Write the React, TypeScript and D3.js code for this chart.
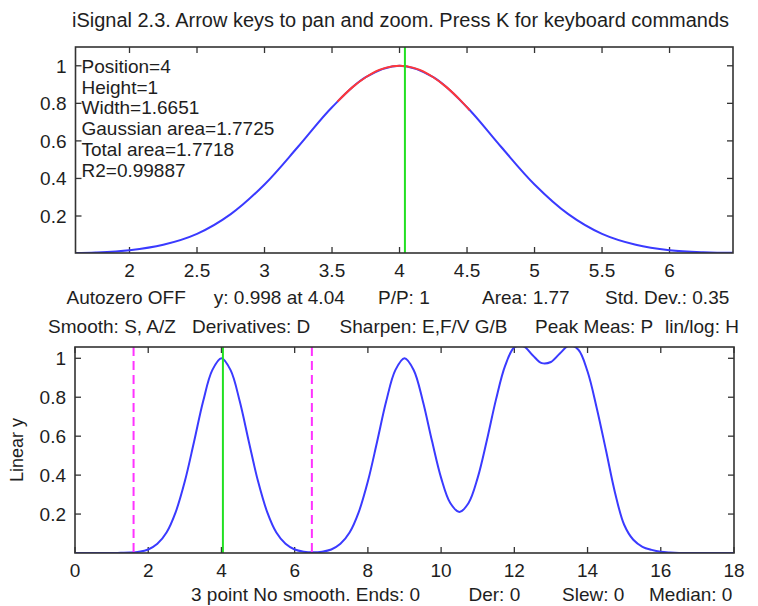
import React from "react";
import * as d3 from "d3";

// ---------- data ----------
const sampleX = [
  0, 0.25, 0.5, 0.75, 1, 1.25, 1.5, 1.75, 2, 2.25, 2.5, 2.75, 3, 3.25, 3.5, 3.75,
  4, 4.25, 4.5, 4.75, 5, 5.25, 5.5, 5.75, 6, 6.25, 6.5, 6.75, 7, 7.25, 7.5, 7.75,
  8, 8.25, 8.5, 8.75, 9, 9.25, 9.5, 9.75, 10, 10.25, 10.5, 10.75, 11, 11.25, 11.5, 11.75,
  12, 12.25, 12.5, 12.75, 13, 13.25, 13.5, 13.75, 14, 14.25, 14.5, 14.75, 15, 15.25, 15.5, 15.75,
  16, 16.25, 16.5, 16.75, 17, 17.25, 17.5, 17.75, 18,
];
const signalY = [
  0, 0, 0, 0, 0, 0.001, 0.002, 0.006, 0.018, 0.047, 0.105, 0.21, 0.368, 0.57, 0.779, 0.939,
  1.0, 0.939, 0.779, 0.57, 0.368, 0.21, 0.105, 0.047, 0.018, 0.007, 0.004, 0.007, 0.018, 0.047, 0.105, 0.21,
  0.368, 0.57, 0.779, 0.939, 1.0, 0.94, 0.781, 0.576, 0.386, 0.257, 0.211, 0.257, 0.387, 0.579, 0.789, 0.962,
  1.056, 1.062, 1.016, 0.975, 0.981, 1.026, 1.066, 1.044, 0.932, 0.745, 0.53, 0.31, 0.145, 0.068, 0.032, 0.016,
  0.006, 0.002, 0, 0, 0, 0, 0, 0, 0,
];
const fitX = [3.54, 3.65, 3.75, 3.85, 3.95, 4.05, 4.15, 4.25, 4.35, 4.45, 4.52];
const fitY = [0.809, 0.885, 0.939, 0.978, 0.998, 0.998, 0.978, 0.939, 0.885, 0.817, 0.763];

const topXTicks = [2, 2.5, 3, 3.5, 4, 4.5, 5, 5.5, 6];
const yTicks = [0.2, 0.4, 0.6, 0.8, 1];
const bottomXTicks = [0, 2, 4, 6, 8, 10, 12, 14, 16, 18];
const topXDomain = [1.6, 6.47];
const topYDomain = [0.003, 1.1];
const bottomXDomain = [0, 18];
const bottomYDomain = [0, 1.058];
const cursorX = 4.04;
const windowEdges = [1.6, 6.47];

const titleText = "iSignal 2.3. Arrow keys to pan and zoom. Press K for keyboard commands";
const fitResults = [
  "Position=4",
  "Height=1",
  "Width=1.6651",
  "Gaussian area=1.7725",
  "Total area=1.7718",
  "R2=0.99887",
];
const statusLine = ["Autozero OFF", "y: 0.998 at 4.04", "P/P: 1", "Area: 1.77", "Std. Dev.: 0.35"];
const keyLine = ["Smooth: S, A/Z", "Derivatives: D", "Sharpen: E,F/V G/B", "Peak Meas: P", "lin/log: H"];
const smoothLine = ["3 point No smooth. Ends: 0", "Der: 0", "Slew: 0", "Median: 0"];
const yAxisLabel = "Linear y";

// ---------- layout ----------
const W = 758;
const H = 606;
const FONT = "'Liberation Sans', Arial, Helvetica, sans-serif";
const FS = 19;
const TEXT = "#1e1e1e";
const AXIS = "#333";
const TICK = 6;

const topBox = { l: 75.5, r: 733, t: 47, b: 253 };
const botBox = { l: 75, r: 734, t: 347, b: 553 };
const statusStarts = [66.5, 213.8, 378, 482, 605];
const keyStarts = [48.1, 192, 339.6, 535, 665];
const smoothStarts = [191, 468.5, 562, 649];

const fmt = (v: number) => String(v);

function Axes({ box, xs, ys, xTicks, yTicksArr, labelBaseline, id }: any) {
  return (
    <g>
      <rect x={box.l} y={box.t} width={box.r - box.l} height={box.b - box.t} fill="white" />
      {xTicks.map((t: number) => (
        <g key={"x" + t}>
          <line x1={xs(t)} x2={xs(t)} y1={box.b} y2={box.b - TICK} stroke={AXIS} strokeWidth={1.3} />
          <line x1={xs(t)} x2={xs(t)} y1={box.t} y2={box.t + TICK} stroke={AXIS} strokeWidth={1.3} />
          <text x={xs(t)} y={labelBaseline} textAnchor="middle" fontSize={FS} fill={TEXT} fontFamily={FONT}>
            {fmt(t)}
          </text>
        </g>
      ))}
      {yTicksArr.map((t: number) => (
        <g key={"y" + t}>
          <line x1={box.l} x2={box.l + TICK} y1={ys(t)} y2={ys(t)} stroke={AXIS} strokeWidth={1.3} />
          <line x1={box.r} x2={box.r - TICK} y1={ys(t)} y2={ys(t)} stroke={AXIS} strokeWidth={1.3} />
          <text x={box.l - 9} y={ys(t) + 6.8} textAnchor="end" fontSize={FS} fill={TEXT} fontFamily={FONT}>
            {fmt(t)}
          </text>
        </g>
      ))}
      <clipPath id={id}>
        <rect x={box.l} y={box.t} width={box.r - box.l} height={box.b - box.t} />
      </clipPath>
    </g>
  );
}

export default function App() {
  const pts = sampleX.map((x, i) => [x, signalY[i]] as [number, number]);
  const fitPts = fitX.map((x, i) => [x, fitY[i]] as [number, number]);

  const xTop = d3.scaleLinear().domain(topXDomain).range([topBox.l, topBox.r]);
  const yTop = d3.scaleLinear().domain(topYDomain).range([topBox.b, topBox.t]);
  const xBot = d3.scaleLinear().domain(bottomXDomain).range([botBox.l, botBox.r]);
  const yBot = d3.scaleLinear().domain(bottomYDomain).range([botBox.b, botBox.t]);

  const lineTop = d3
    .line<[number, number]>()
    .x((d) => xTop(d[0]))
    .y((d) => yTop(d[1]))
    .curve(d3.curveCatmullRom.alpha(0.5));
  const lineBot = d3
    .line<[number, number]>()
    .x((d) => xBot(d[0]))
    .y((d) => yBot(d[1]))
    .curve(d3.curveCatmullRom.alpha(0.5));

  const topPts = pts.filter((p) => p[0] >= topXDomain[0] - 0.5 && p[0] <= topXDomain[1] + 0.5);

  return (
    <svg
      width={W}
      height={H}
      viewBox={`0 0 ${W} ${H}`}
      style={{ position: "absolute", left: 0, top: 0, background: "white" }}
    >
      <rect x={0} y={0} width={W} height={H} fill="white" />
      <text x={72} y={27} fontSize={20} fill={TEXT} fontFamily={FONT} textLength={657} lengthAdjust="spacingAndGlyphs">
        {titleText}
      </text>

      {/* top plot */}
      <Axes box={topBox} xs={xTop} ys={yTop} xTicks={topXTicks} yTicksArr={yTicks} labelBaseline={277} id="clipTop" />
      <g clipPath="url(#clipTop)">
        <path d={lineTop(topPts) || ""} fill="none" stroke="#3a3aff" strokeWidth={2} />
        <path d={lineTop(fitPts) || ""} fill="none" stroke="#ff3838" strokeWidth={2} />
        <line x1={xTop(cursorX)} x2={xTop(cursorX)} y1={topBox.t} y2={topBox.b} stroke="#22e022" strokeWidth={2} />
      </g>
      <rect x={topBox.l} y={topBox.t} width={topBox.r - topBox.l} height={topBox.b - topBox.t} fill="none" stroke={AXIS} strokeWidth={1.6} />
      {fitResults.map((s, i) => (
        <text key={s} x={81.5} y={73 + i * 20.7} fontSize={FS} fill={TEXT} fontFamily={FONT}>
          {s}
        </text>
      ))}

      {/* status lines */}
      {statusLine.map((s, i) => (
        <text key={s} x={statusStarts[i]} y={304} fontSize={FS} fill={TEXT} fontFamily={FONT}>
          {s}
        </text>
      ))}
      {keyLine.map((s, i) => (
        <text key={s} x={keyStarts[i]} y={333} fontSize={FS} fill={TEXT} fontFamily={FONT}>
          {s}
        </text>
      ))}

      {/* bottom plot */}
      <Axes box={botBox} xs={xBot} ys={yBot} xTicks={bottomXTicks} yTicksArr={yTicks} labelBaseline={577} id="clipBot" />
      <g clipPath="url(#clipBot)">
        <path d={lineBot(pts) || ""} fill="none" stroke="#3a3aff" strokeWidth={2} />
        {windowEdges.map((e) => (
          <line key={e} x1={xBot(e)} x2={xBot(e)} y1={botBox.t} y2={botBox.b} stroke="#ff33ff" strokeWidth={2} strokeDasharray="9,5" />
        ))}
        <line x1={xBot(cursorX)} x2={xBot(cursorX)} y1={botBox.t} y2={botBox.b} stroke="#22e022" strokeWidth={2} />
      </g>
      <rect x={botBox.l} y={botBox.t} width={botBox.r - botBox.l} height={botBox.b - botBox.t} fill="none" stroke={AXIS} strokeWidth={1.6} />
      <text
        transform={`translate(23, ${(botBox.t + botBox.b) / 2}) rotate(-90)`}
        textAnchor="middle"
        fontSize={18}
        fill={TEXT}
        fontFamily={FONT}
      >
        {yAxisLabel}
      </text>
      {smoothLine.map((s, i) => (
        <text key={s} x={smoothStarts[i]} y={601} fontSize={FS} fill={TEXT} fontFamily={FONT}>
          {s}
        </text>
      ))}
    </svg>
  );
}
